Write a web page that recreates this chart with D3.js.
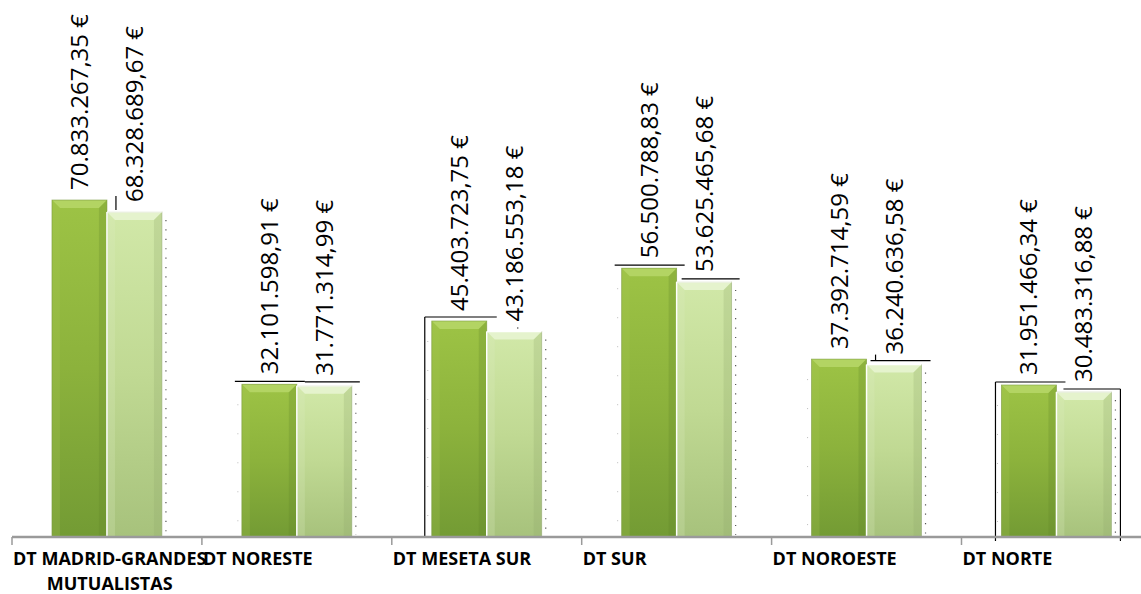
<!DOCTYPE html>
<html>
<head>
<meta charset="utf-8">
<script src="https://cdn.jsdelivr.net/npm/d3@7"></script>
<style>
html,body{margin:0;padding:0;background:#fff;}
svg{display:block;}
</style>
</head>
<body>
<svg id="chart" width="1141" height="594"></svg>
<script>
const categories = ["DT MADRID-GRANDES MUTUALISTAS","DT NORESTE","DT MESETA SUR","DT SUR","DT NOROESTE","DT NORTE"];
const categoryLines = [["DT MADRID-GRANDES","MUTUALISTAS"],["DT NORESTE"],["DT MESETA SUR"],["DT SUR"],["DT NOROESTE"],["DT NORTE"]];
const series1 = [70833267.35, 32101598.91, 45403723.75, 56500788.83, 37392714.59, 31951466.34];
const series2 = [68328689.67, 31771314.99, 43186553.18, 53625465.68, 36240636.58, 30483316.88];
const series1Labels = ["70.833.267,35 €","32.101.598,91 €","45.403.723,75 €","56.500.788,83 €","37.392.714,59 €","31.951.466,34 €"];
const series2Labels = ["68.328.689,67 €","31.771.314,99 €","43.186.553,18 €","53.625.465,68 €","36.240.636,58 €","30.483.316,88 €"];

const svg = d3.select("#chart");
const baseY = 537;
const x = d3.scaleBand().domain(categories).range([12, 12 + 189.9 * 6]).paddingInner(0).paddingOuter(0);
const inner = d3.scaleBand().domain([0, 1]).range([0, x.bandwidth()]).paddingInner(0).paddingOuter(0.727);
const y = d3.scaleLinear().domain([0, 80e6]).range([baseY, baseY - 380.6]);

const defs = svg.append("defs");
function grad(id, stops) {
  const g = defs.append("linearGradient").attr("id", id).attr("x1", 0).attr("y1", 0).attr("x2", 0).attr("y2", 1);
  stops.forEach(s => g.append("stop").attr("offset", s[0]).attr("stop-color", s[1]));
}
grad("gDark", [[0, "#9dc345"], [0.5, "#8cb23c"], [1, "#739b34"]]);
grad("gLight", [[0, "#d1e8a8"], [0.5, "#c0d993"], [1, "#a7c27c"]]);

const data = [];
categories.forEach((c, i) => {
  data.push({c, i, s: 0, v: series1[i], label: series1Labels[i]});
  data.push({c, i, s: 1, v: series2[i], label: series2Labels[i]});
});
const bw = inner.bandwidth();

// dotted vertical lines beside bars
data.filter(d => d.s === 1).forEach(d => {
  const bx = x(d.c) + inner(1) + bw + 4;
  svg.append("line").attr("x1", bx).attr("x2", bx).attr("y1", y(d.v) + 8).attr("y2", baseY - 2)
    .attr("stroke", "#555").attr("stroke-width", 1.2).attr("stroke-dasharray", "1.2,8.2");
});
data.filter(d => d.s === 0 && d.i > 0).forEach(d => {
  const bx = x(d.c) + inner(0) - 4;
  svg.append("line").attr("x1", bx).attr("x2", bx).attr("y1", y(d.v) + 20).attr("y2", baseY - 10)
    .attr("stroke", "#bbb").attr("stroke-width", 1).attr("stroke-dasharray", "1,28");
});

// bars
const bars = svg.append("g").selectAll("g").data(data).join("g");
bars.each(function(d) {
  const g = d3.select(this);
  const bx = x(d.c) + inner(d.s);
  const by = y(d.v);
  const h = baseY - by;
  const dark = d.s === 0;
  g.append("rect").attr("x", bx).attr("y", by).attr("width", bw).attr("height", h)
    .attr("fill", dark ? "url(#gDark)" : "url(#gLight)");
  const b = 8;
  g.append("polygon").attr("points", [[bx, by], [bx + bw, by], [bx + bw - b, by + b], [bx + b, by + b]].join(" "))
    .attr("fill", dark ? "#b7d769" : "#e9f5d3").attr("opacity", 0.85);
  g.append("polygon").attr("points", [[bx, by], [bx + b, by + b], [bx + b, baseY], [bx, baseY]].join(" "))
    .attr("fill", dark ? "#a6c853" : "#dcedc0").attr("opacity", 0.25);
  g.append("polygon").attr("points", [[bx + bw, by], [bx + bw - b, by + b], [bx + bw - b, baseY], [bx + bw, baseY]].join(" "))
    .attr("fill", dark ? "#5f8526" : "#8fa86a").attr("opacity", 0.25);
  g.append("rect").attr("x", bx).attr("y", by).attr("width", bw).attr("height", h)
    .attr("fill", "none").attr("stroke", dark ? "#7a9a3e" : "#9aae7a").attr("stroke-width", 0.8).attr("opacity", 0.7);
  if (!dark) {
    g.append("line").attr("x1", bx).attr("x2", bx).attr("y1", by).attr("y2", baseY)
      .attr("stroke", "#fff").attr("stroke-width", 1.5);
    g.append("line").attr("x1", bx).attr("x2", bx + bw).attr("y1", by).attr("y2", by)
      .attr("stroke", "#fff").attr("stroke-width", 1.2);
  }
});

// leader-line artifacts around labels
const lk = (i, s) => ({x0: x(categories[i]) + inner(s), x1: x(categories[i]) + inner(s) + bw, yt: y(s === 0 ? series1[i] : series2[i])});
const ln = (x1, y1, x2, y2) => svg.append("line").attr("x1", x1).attr("y1", y1).attr("x2", x2).attr("y2", y2)
  .attr("stroke", "#000").attr("stroke-width", 1.2);
{ const a = lk(0, 0); ln(a.x1 + 9, a.yt - 4, a.x1 + 9, a.yt + 10); }
{ const a = lk(1, 0); ln(a.x0 - 7, a.yt - 3, a.x1 + 8, a.yt - 3); const b2 = lk(1, 1); ln(a.x1 + 8, a.yt - 2.5, b2.x1 + 8, a.yt - 2.5); }
{ const a = lk(2, 0); ln(a.x0 - 7, a.yt - 4, a.x1 + 10, a.yt - 4); ln(a.x0 - 7, a.yt - 4, a.x0 - 7, baseY); const b2 = lk(2, 1); ln(b2.x0 + 31, b2.yt - 4, b2.x0 + 31, b2.yt - 3); }
{ const a = lk(3, 0); ln(a.x0 - 7, a.yt - 3, a.x1 + 8, a.yt - 3); const b2 = lk(3, 1); ln(b2.x0 + 5, b2.yt - 3, b2.x1 + 8, b2.yt - 3); }
{ const a = lk(4, 1); ln(a.x0 + 4, a.yt - 4, a.x1 + 9, a.yt - 4); ln(a.x0 + 9, a.yt - 10, a.x0 + 9, a.yt - 4); }
{ const a = lk(5, 0); ln(a.x0 - 6, a.yt - 3, a.x1 + 9, a.yt - 3); ln(a.x0 - 6, a.yt - 3, a.x0 - 6, baseY + 4);
  const b2 = lk(5, 1); ln(a.x1 + 7, b2.yt - 3, b2.x1 + 9, b2.yt - 3); ln(b2.x1 + 9, b2.yt - 3, b2.x1 + 9, baseY + 4); }

// value labels
svg.append("g").selectAll("text").data(data).join("text")
  .attr("transform", d => `translate(${x(d.c) + inner(d.s) + bw / 2 + 8.5},${y(d.v) - 10}) rotate(-90)`)
  .attr("text-anchor", "start")
  .attr("font-family", "'Open Sans', sans-serif")
  .attr("font-size", 24)
  .attr("fill", "#000")
  .text(d => d.label);

// axis
const axis = svg.append("g");
axis.append("line").attr("x1", 12).attr("x2", 1141).attr("y1", baseY).attr("y2", baseY)
  .attr("stroke", "#9a9a9a").attr("stroke-width", 2.5);
categories.forEach(c => {
  axis.append("line").attr("x1", x(c)).attr("x2", x(c)).attr("y1", baseY).attr("y2", baseY + 8)
    .attr("stroke", "#9a9a9a").attr("stroke-width", 1.5);
});

// category labels
categories.forEach((c, i) => {
  const lines = categoryLines[i];
  const g = svg.append("g");
  const texts = lines.map((t, k) => g.append("text")
    .attr("y", 565 + k * 25)
    .attr("font-family", "'Open Sans', sans-serif")
    .attr("font-weight", 700)
    .attr("font-size", 18)
    .attr("fill", "#000")
    .text(t));
  const widths = texts.map(t => t.node().getComputedTextLength());
  const mw = Math.max(...widths);
  const left = x(c) + 1;
  texts.forEach((t, k) => t.attr("x", left + (mw - widths[k]) / 2));
});
</script>
</body>
</html>
